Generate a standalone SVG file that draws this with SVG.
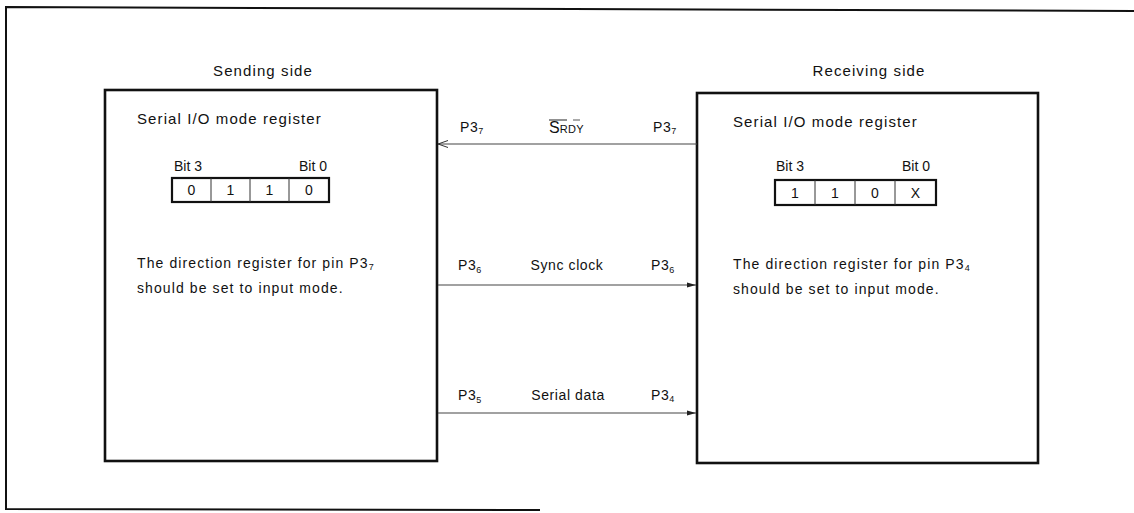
<svg xmlns="http://www.w3.org/2000/svg" width="1134" height="513" viewBox="0 0 1134 513">
<defs>
<style>
text{font-family:"Liberation Sans",Arial,sans-serif;fill:#111;}
.t15{font-size:15px;letter-spacing:1.1px;}
.t14{font-size:14px;letter-spacing:1.1px;}
.bit{font-size:14px;letter-spacing:0px;}
.dig{font-size:14px;text-anchor:middle;}
.lbl{font-size:14px;letter-spacing:0.6px;}
.sub{font-size:9px;}
.box{fill:#fff;stroke:#111;stroke-width:2.6;}
.reg{fill:#fff;stroke:#111;stroke-width:2.2;}
.cell{stroke:#333;stroke-width:1;}
.frame{fill:none;stroke:#111;stroke-width:2;}
.conn{stroke:#444;stroke-width:1.1;fill:none;}
</style>
<marker id="openL" markerWidth="12" markerHeight="10" refX="10" refY="5" orient="auto" markerUnits="userSpaceOnUse">
<path d="M0,1.5 L10,5 L0,8.5" fill="none" stroke="#333" stroke-width="1"/>
</marker>
<marker id="fillR" markerWidth="10" markerHeight="8" refX="9" refY="4" orient="auto" markerUnits="userSpaceOnUse">
<path d="M0,1.5 L9,4 L0,6.5 Z" fill="#222"/>
</marker>
</defs>
<rect width="1134" height="513" fill="#fff"/>
<path class="frame" d="M1134,11 L6,7 L6,509 L540,510"/>

<g id="sending-side">
<text class="t15" x="263" y="76" text-anchor="middle">Sending side</text>
<rect class="box" x="105" y="90" width="332" height="371"/>
<text class="t15" x="137" y="124">Serial I/O mode register</text>
<text class="bit" x="174" y="171">Bit 3</text>
<text class="bit" x="327" y="171" text-anchor="end">Bit 0</text>
<rect class="reg" x="172" y="178" width="157" height="24"/>
<line class="cell" x1="211" y1="178" x2="211" y2="202"/>
<line class="cell" x1="250" y1="178" x2="250" y2="202"/>
<line class="cell" x1="289" y1="178" x2="289" y2="202"/>
<text class="dig" x="191.5" y="195">0</text>
<text class="dig" x="230.5" y="195">1</text>
<text class="dig" x="269.5" y="195">1</text>
<text class="dig" x="309" y="195">0</text>
<text class="t14" x="137" y="268">The direction register for pin P3<tspan class="sub" dy="2">7</tspan></text>
<text class="t14" x="137" y="293">should be set to input mode.</text>
</g>

<g id="receiving-side">
<text class="t15" x="869" y="76" text-anchor="middle">Receiving side</text>
<rect class="box" x="697" y="93" width="341" height="370"/>
<text class="t15" x="733" y="127">Serial I/O mode register</text>
<text class="bit" x="776" y="171">Bit 3</text>
<text class="bit" x="930" y="171" text-anchor="end">Bit 0</text>
<rect class="reg" x="775" y="180" width="161" height="25"/>
<line class="cell" x1="815" y1="180" x2="815" y2="205"/>
<line class="cell" x1="855" y1="180" x2="855" y2="205"/>
<line class="cell" x1="895" y1="180" x2="895" y2="205"/>
<text class="dig" x="795" y="198">1</text>
<text class="dig" x="835" y="198">1</text>
<text class="dig" x="875" y="198">0</text>
<text class="dig" x="915.5" y="198">X</text>
<text class="t14" x="733" y="269">The direction register for pin P3<tspan class="sub" dy="2">4</tspan></text>
<text class="t14" x="733" y="294">should be set to input mode.</text>
</g>

<g id="connectors">
<line class="conn" x1="697" y1="144" x2="438" y2="144" marker-end="url(#openL)"/>
<line class="conn" x1="438" y1="285" x2="696" y2="285" marker-end="url(#fillR)"/>
<line class="conn" x1="438" y1="413" x2="696" y2="413" marker-end="url(#fillR)"/>
</g>

<g id="connector-labels">
<text class="lbl" x="460" y="132">P3<tspan class="sub" dy="2">7</tspan></text>
<text x="549" y="133" font-size="16">S<tspan font-size="11" letter-spacing="0.3">RDY</tspan></text>
<line x1="549" y1="120" x2="567" y2="120" stroke="#222" stroke-width="1"/>
<line x1="573" y1="120" x2="580" y2="120" stroke="#555" stroke-width="1"/>
<text class="lbl" x="653" y="132">P3<tspan class="sub" dy="2">7</tspan></text>

<text class="lbl" x="458" y="270">P3<tspan class="sub" dy="3">6</tspan></text>
<text class="lbl" x="567" y="270" text-anchor="middle">Sync clock</text>
<text class="lbl" x="651" y="270">P3<tspan class="sub" dy="3">6</tspan></text>

<text class="lbl" x="458" y="400">P3<tspan class="sub" dy="3">5</tspan></text>
<text class="lbl" x="568" y="400" text-anchor="middle">Serial data</text>
<text class="lbl" x="651" y="400">P3<tspan class="sub" dy="2">4</tspan></text>
</g>
</svg>
